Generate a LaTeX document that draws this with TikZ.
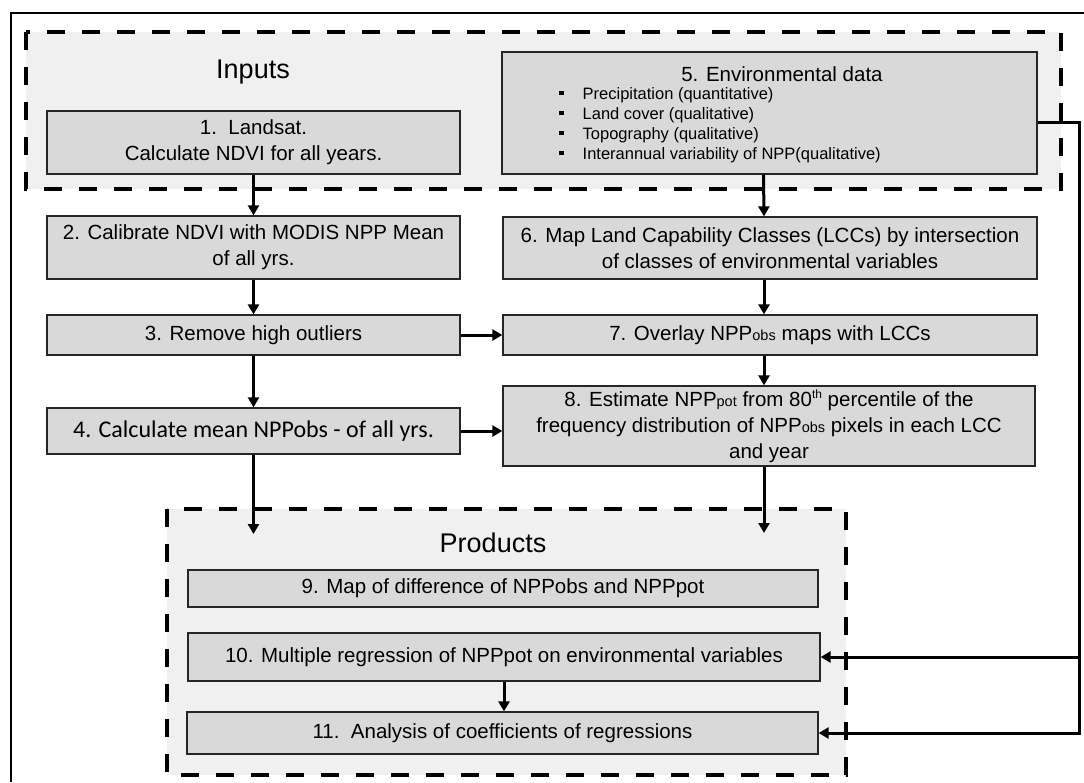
\documentclass[tikz,border=0pt]{standalone}
\usepackage{fontspec}
\setmainfont{Liberation Sans}
\newfontfamily\calib{Carlito}
\usetikzlibrary{arrows.meta}
\definecolor{boxgray}{HTML}{D9D9D9}
\definecolor{grpgray}{HTML}{F0F0F0}
\newcommand{\fsz}[2]{\fontsize{#1}{#2}\selectfont}
\newcommand{\smalltxt}[1]{{\fontsize{14.5}{14.5}\selectfont #1}}
\newcommand{\suptxt}[1]{\raisebox{8pt}{\fontsize{12}{12}\selectfont #1}}
\newcommand{\bul}{\raisebox{4pt}{\rule{4.5pt}{4.5pt}}}
\begin{document}
\begin{tikzpicture}[x=1pt,y=-1pt,
  stepbox/.style={draw=black!85, line width=1.3pt, fill=boxgray, inner sep=0pt, align=center, font=\fsz{20.5}{26}},
  group/.style={draw=black, line width=4pt, dash pattern=on 18pt off 17pt, fill=grpgray},
  conn/.style={line width=3pt, -{Triangle[length=10pt,width=11pt]}},
  heading/.style={font=\fsz{27}{32}, inner sep=0pt}]
\useasboundingbox (0,0) rectangle (1084,782);
\fill[white] (0,0) rectangle (1084,782);
\draw[line width=1.2pt] (1084,13) -- (11,13) -- (11,782);
% groups
\draw[group] (26,32) rectangle (1061,189);
\draw[group] (167,509) rectangle (846,775);
\node[heading] (hin) at (253,72) {Inputs};
\node[heading] (hpr) at (493,543) {Products};
% left column
\node[stepbox, minimum width=413pt, minimum height=63pt] (b1) at (253.5,142.5) {1.\ \ Landsat.\\Calculate NDVI for all years.};
\node[stepbox, minimum width=413pt, minimum height=63pt] (b2) at (253.5,247.5) {2. Calibrate NDVI with MODIS NPP Mean\\of all yrs.};
\node[stepbox, minimum width=413pt, minimum height=40pt] (b3) at (253.5,335) {3. Remove high outliers};
\node[stepbox, minimum width=413pt, minimum height=46pt, font=\calib\fsz{24}{28}] (b4) at (253.5,431) {4. Calculate mean NPPobs - of all yrs.};
% right column
\node[stepbox, minimum width=535pt, minimum height=122pt] (b5) at (769.5,113) {};
\node[font=\fsz{20.5}{24}, inner sep=0pt] (b5t) at (782,74) {5. Environmental data};
\node[anchor=north west, align=left, inner sep=0pt, font=\fsz{16.5}{20}] (b5l) at (559,87)
 {\bul\hspace{19pt}Precipitation (quantitative)\\
  \bul\hspace{19pt}Land cover (qualitative)\\
  \bul\hspace{19pt}Topography (qualitative)\\
  \bul\hspace{19pt}Interannual variability of NPP(qualitative)};
\node[stepbox, minimum width=534pt, minimum height=62pt] (b6) at (770,248) {6. Map Land Capability Classes (LCCs) by intersection\\of classes of environmental variables};
\node[stepbox, minimum width=534pt, minimum height=40pt] (b7) at (770,335) {7. Overlay NPP\smalltxt{obs} maps with LCCs};
\node[stepbox, minimum width=532pt, minimum height=80pt] (b8) at (769,426) {8. Estimate NPP\smalltxt{pot} from 80\suptxt{th} percentile of the\\frequency distribution of NPP\smalltxt{obs} pixels in each LCC\\and year};
% products
\node[stepbox, minimum width=630pt, minimum height=37pt] (b9) at (503,588.5) {9. Map of difference of NPPobs and NPPpot};
\node[stepbox, minimum width=632pt, minimum height=48pt] (b10) at (504,657) {10. Multiple regression of NPPpot on environmental variables};
\node[stepbox, minimum width=631pt, minimum height=42pt] (b11) at (502.5,733) {11.\ \ Analysis of coefficients of regressions};
% coordinates
\coordinate (p1) at (253.5,534);
\coordinate (p2) at (764,533);
\coordinate (rt) at (1079,122);
% connectors
\draw[conn] (b1) -- (b2);
\draw[conn] (b2) -- (b3);
\draw[conn] (b3) -- (b4);
\draw[conn] (b4.south) -- (p1);
\draw[conn] ([xshift=-6pt]b5.south) -- ([xshift=-6pt]b6.north);
\draw[conn] ([xshift=-6pt]b6.south) -- ([xshift=-6pt]b7.north);
\draw[conn] ([xshift=-6pt]b7.south) -- ([xshift=-5pt]b8.north);
\draw[conn] ([xshift=-5pt]b8.south) -- (p2);
\draw[conn] (b3.east) -- (b3.east -| b7.west);
\draw[conn] (b4.east) -- (b4.east -| b8.west);
\draw[conn] (b10.south) -- (b10.south |- b11.north);
\draw[conn] ([yshift=-9pt]b5.east) -- (rt) -- (rt |- b11.east) -- (b11.east);
\draw[conn] (rt |- b10.east) -- (b10.east);
\end{tikzpicture}
\end{document}
